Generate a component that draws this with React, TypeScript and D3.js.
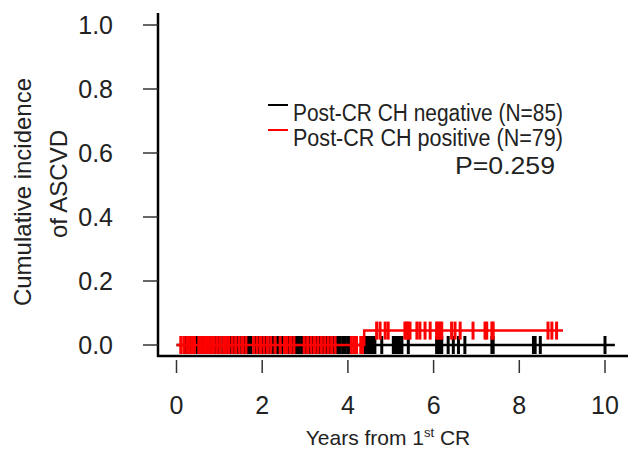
import React from 'react';
import * as d3 from 'd3';

const xTicks = [0, 2, 4, 6, 8, 10];
const yTicks = [0, 0.2, 0.4, 0.6, 0.8, 1.0];

// Post-CR CH negative: no events, censor times (years)
const blackCensor = [
  0.20, 0.28, 0.35, 0.45, 0.50, 0.55, 0.62, 0.68, 0.78, 0.85, 0.92,
  1.00, 1.08, 1.14, 1.20, 1.28, 1.35, 1.40, 1.44, 1.52, 1.60, 1.68,
  1.74, 1.84, 1.92, 2.00, 2.05, 2.10, 2.18, 2.26, 2.36, 2.46, 2.55,
  2.62, 2.70, 2.80, 2.86, 2.92, 3.00, 3.05, 3.10, 3.18, 3.26, 3.34,
  3.42, 3.50, 3.58, 3.66, 3.70, 3.76, 3.82, 3.88, 3.94, 4.00,
  4.05, 4.17, 4.40, 4.44, 4.48, 4.52, 4.56, 4.59, 4.63, 4.79, 5.06, 5.10,
  5.14, 5.18, 5.22, 5.26, 5.41, 6.07, 6.11, 6.15, 6.19, 6.34, 6.46, 6.58,
  6.73, 7.36, 7.39, 8.33, 8.37, 8.49, 10.0,
];
const blackStepTimes = [0];
const blackStepValues = [0];
const blackEnd = 10.23;

// Post-CR CH positive
const redCensor = [
  0.10, 0.17, 0.24, 0.30, 0.36, 0.42, 0.52, 0.58, 0.64, 0.70,
  0.76, 0.82, 0.88, 0.95, 1.02, 1.10, 1.16, 1.22, 1.30, 1.38,
  1.46, 1.54, 1.62, 1.80, 1.88, 1.96, 2.04, 2.12, 2.20, 2.30,
  2.42, 2.52, 2.58, 2.66, 2.74, 2.98, 3.06, 3.14, 3.22, 3.30,
  3.38, 3.46, 3.54, 3.62, 3.70, 4.08, 4.14, 4.20, 4.30, 4.34,
  4.67, 4.75, 4.87, 4.94, 5.33, 5.37, 5.40, 5.45, 5.61, 5.68, 5.80,
  5.92, 6.07, 6.10, 6.15, 6.19, 6.42, 6.50, 6.62, 6.92, 7.20, 7.24,
  7.36, 7.39, 8.67, 8.76, 8.87,
];
const redStepTimes = [0, 4.38];
const redStepValues = [0, 0.045];
const redEnd = 9.02;

const legendLabels = ['Post-CR CH negative (N=85)', 'Post-CR CH positive (N=79)'];
const legendColors = ['#000000', '#ff0000'];
const pValueLabel = 'P=0.259';

const FONT = '"Liberation Sans", Arial, sans-serif';

const x = d3.scaleLinear().domain([0, 10]).range([176.5, 605]);
const y = d3.scaleLinear().domain([0, 1]).range([345, 25]);

function stepValue(times: number[], values: number[], t: number) {
  const i = d3.bisectRight(times, t) - 1;
  return values[Math.max(0, i)];
}

function Curve({ times, values, end, censor, color }: any) {
  const pts: [number, number][] = times.map((t: number, i: number) => [t, values[i]]);
  pts.push([end, values[values.length - 1]]);
  const line = d3
    .line<[number, number]>()
    .x((d) => x(d[0]))
    .y((d) => y(d[1]))
    .curve(d3.curveStepAfter);
  return (
    <g>
      <path d={line(pts) || ''} fill="none" stroke={color} strokeWidth={2.5} />
      {censor.map((t: number, i: number) => {
        const v = stepValue(times, values, t);
        return (
          <line
            key={i}
            x1={x(t)}
            x2={x(t)}
            y1={y(v) - 9}
            y2={y(v) + 9}
            stroke={color}
            strokeWidth={3}
          />
        );
      })}
    </g>
  );
}

export default function App() {
  return (
    <svg
      width={639}
      height={450}
      style={{ position: 'absolute', left: 0, top: 0, background: '#fff' }}
      fontFamily={FONT}
    >
      <rect width={639} height={450} fill="#fff" />
      {/* axes lines */}
      <line x1={158} x2={158} y1={13} y2={357} stroke="#000" strokeWidth={2.5} />
      <line x1={157} x2={628} y1={356} y2={356} stroke="#000" strokeWidth={2.5} />

      {/* y ticks */}
      {yTicks.map((t) => (
        <g key={t}>
          <line x1={143} x2={158} y1={y(t)} y2={y(t)} stroke="#333" strokeWidth={1.5} />
          <text
            x={113}
            y={y(t)}
            textAnchor="end"
            dominantBaseline="central"
            fontSize={25}
            fill="#222"
          >
            {t.toFixed(1)}
          </text>
        </g>
      ))}

      {/* x ticks */}
      {xTicks.map((t) => (
        <g key={t}>
          <line x1={x(t)} x2={x(t)} y1={360} y2={373} stroke="#333" strokeWidth={1.5} />
          <text
            x={x(t)}
            y={405}
            textAnchor="middle"
            dominantBaseline="central"
            fontSize={25}
            fill="#222"
          >
            {t}
          </text>
        </g>
      ))}

      {/* x title */}
      <text x={388} y={445} textAnchor="middle" fontSize={21} fill="#222">
        Years from 1<tspan fontSize={13} dy={-8}>st</tspan>
        <tspan dy={8}> CR</tspan>
      </text>

      {/* y title */}
      <text
        transform="translate(31,192) rotate(-90)"
        textAnchor="middle"
        fontSize={24}
        fill="#222"
      >
        Cumulative incidence
      </text>
      <text
        transform="translate(67,184) rotate(-90)"
        textAnchor="middle"
        fontSize={24}
        fill="#222"
      >
        of ASCVD
      </text>

      {/* curves */}
      <Curve
        times={blackStepTimes}
        values={blackStepValues}
        end={blackEnd}
        censor={blackCensor}
        color="#000000"
      />
      <Curve
        times={redStepTimes}
        values={redStepValues}
        end={redEnd}
        censor={redCensor}
        color="#ff0000"
      />

      {/* legend */}
      {legendLabels.map((lab, i) => (
        <g key={lab}>
          <line
            x1={268}
            x2={288}
            y1={105 + i * 25}
            y2={105 + i * 25}
            stroke={legendColors[i]}
            strokeWidth={2}
          />
          <text
            x={293}
            y={121 + i * 25}
            fontSize={23}
            fill="#222"
            textLength={270}
            lengthAdjust="spacingAndGlyphs"
          >
            {lab}
          </text>
        </g>
      ))}
      <text
        x={455}
        y={174}
        fontSize={24}
        fill="#222"
        textLength={100}
        lengthAdjust="spacingAndGlyphs"
      >
        {pValueLabel}
      </text>
    </svg>
  );
}
